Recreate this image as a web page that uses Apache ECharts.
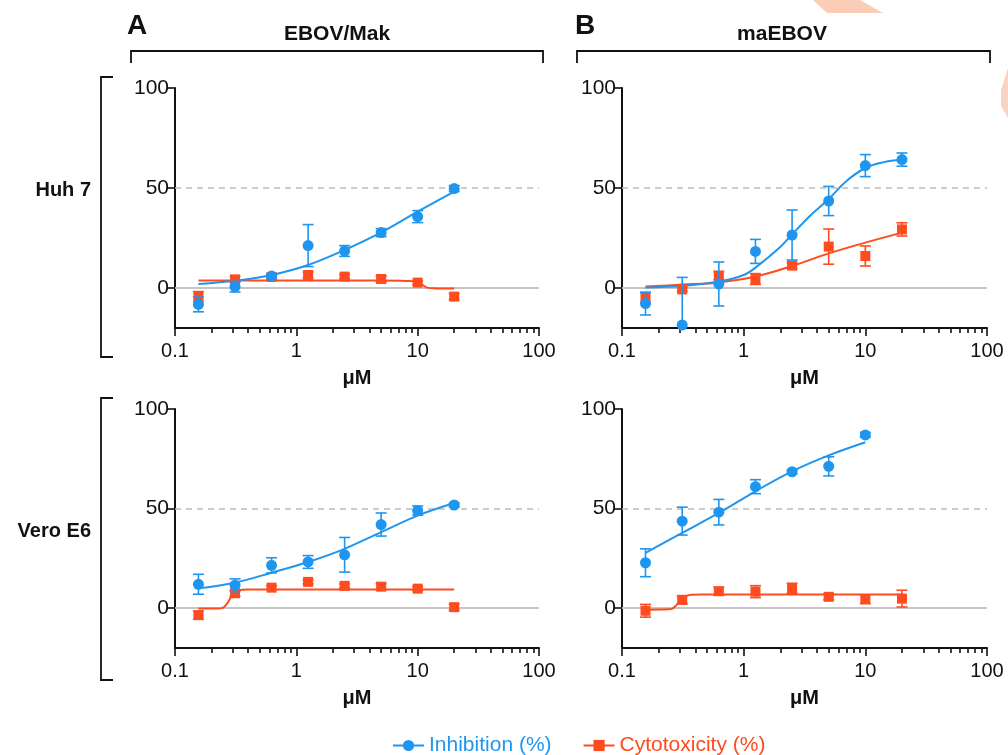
<!DOCTYPE html>
<html>
<head>
<meta charset="utf-8">
<style>html,body{margin:0;padding:0;background:#fff}#c{width:1008px;height:755px}</style>
<script src="https://cdn.jsdelivr.net/npm/echarts@6/dist/echarts.min.js"></script>
</head>
<body>
<div id="c"></div>
<script>
// ---------- data ----------
const conc = [0.156, 0.3125, 0.625, 1.25, 2.5, 5, 10, 20];
const xTickLabels = [0.1, 1, 10, 100];
const xMinorTicks = [0.2,0.3,0.4,0.5,0.6,0.7,0.8,0.9,2,3,4,5,6,7,8,9,20,30,40,50,60,70,80,90];
const yTickLabels = [0, 50, 100];
const panelTitles = ['EBOV/Mak', 'maEBOV'];
const rowTitles = ['Huh 7', 'Vero E6'];
const seriesNames = ['Inhibition (%)', 'Cytotoxicity (%)'];

// Huh 7 / EBOV-Mak
const huhMakInh = [-8.2, 0.7, 6.0, 21.2, 18.5, 27.7, 35.7, 49.7];
const huhMakInhErr = [3.7, 2.7, 1.0, 10.5, 2.7, 2.0, 3.0, 1.5];
const huhMakCyt = [-4.3, 4.3, 5.5, 6.5, 5.7, 4.5, 2.7, -4.3];
const huhMakCytErr = [2.5, 1.5, 1.0, 1.5, 1.0, 1.5, 1.0, 1.5];
const huhMakInhCurveX = [0.156, 0.3125, 0.625, 1.25, 2.5, 5, 10, 20];
const huhMakInhCurveY = [2.0, 3.6, 6.5, 11.5, 19.0, 27.8, 38.2, 48.2];
const huhMakCytCurveX = [0.156, 1, 5, 8, 10, 11, 12, 14, 20];
const huhMakCytCurveY = [3.7, 3.7, 3.7, 3.5, 3.0, 1.5, 0.2, -0.2, -0.3];

// Huh 7 / maEBOV
const huhMaInh = [-7.8, -18.5, 2.0, 18.3, 26.5, 43.5, 61.2, 64.2];
const huhMaInhErr = [5.7, 23.8, 11.0, 6.0, 12.5, 7.3, 5.5, 3.3];
const huhMaCyt = [-4.8, -0.7, 6.2, 4.5, 11.2, 20.7, 16.0, 29.3];
const huhMaCytErr = [2.5, 1.0, 2.0, 2.7, 1.5, 8.8, 5.0, 3.3];
const huhMaInhCurveX = [0.156, 0.3125, 0.625, 1, 1.25, 2, 2.5, 3.5, 5, 7, 10, 14, 20];
const huhMaInhCurveY = [0.3, 1.0, 3.2, 6.5, 10.2, 20.5, 26.8, 36.0, 44.5, 53.5, 60.0, 62.8, 64.2];
const huhMaCytCurveX = [0.156, 0.3125, 0.625, 1.25, 2.5, 5, 10, 20];
const huhMaCytCurveY = [0.7, 1.7, 2.8, 5.7, 11.0, 17.3, 22.7, 27.7];

// Vero E6 / EBOV-Mak
const veroMakInh = [12.0, 11.5, 21.5, 23.2, 26.8, 42.0, 49.0, 51.8];
const veroMakInhErr = [5.0, 3.2, 3.8, 3.2, 8.7, 5.8, 2.3, 1.0];
const veroMakCyt = [-3.5, 7.5, 10.3, 13.2, 11.2, 10.8, 9.8, 0.5];
const veroMakCytErr = [2.0, 1.5, 1.0, 1.0, 1.0, 1.5, 1.0, 1.5];
const veroMakInhCurveX = [0.156, 0.3125, 0.625, 1.25, 2.5, 5, 10, 20];
const veroMakInhCurveY = [10.0, 12.8, 17.8, 23.2, 29.8, 38.2, 46.5, 52.8];
const veroMakCytCurveX = [0.156, 0.22, 0.25, 0.27, 0.29, 0.31, 0.34, 0.4, 1, 20];
const veroMakCytCurveY = [-0.2, -0.2, 0.3, 2.5, 5.8, 8.0, 9.1, 9.4, 9.4, 9.4];

// Vero E6 / maEBOV
const veroMaInh = [22.8, 43.7, 48.2, 61.0, 68.5, 71.2, 87.0, null];
const veroMaInhErr = [7.0, 7.0, 6.4, 3.5, 1.0, 4.8, 1.2, null];
const veroMaCyt = [-1.3, 4.2, 8.5, 8.3, 10.0, 5.7, 4.5, 4.8];
const veroMaCytErr = [3.2, 2.0, 2.0, 3.0, 2.5, 1.5, 2.2, 4.2];
const veroMaInhCurveX = [0.156, 0.3125, 0.625, 1.25, 2.5, 5, 10];
const veroMaInhCurveY = [27.8, 37.8, 47.8, 58.7, 68.7, 76.7, 83.3];
const veroMaCytCurveX = [0.156, 0.24, 0.26, 0.28, 0.3, 0.33, 0.37, 0.45, 1, 20];
const veroMaCytCurveY = [-0.8, -0.6, -0.2, 1.5, 3.8, 5.8, 6.7, 6.9, 6.9, 6.9];

// ---------- build ----------
const BLUE = '#1e96f0', ORANGE = '#ff4b1e';
const FONT = "'Liberation Sans', Arial, sans-serif";

const panels = [
  {inh: huhMakInh, inhErr: huhMakInhErr, cyt: huhMakCyt, cytErr: huhMakCytErr,
   icx: huhMakInhCurveX, icy: huhMakInhCurveY, ccx: huhMakCytCurveX, ccy: huhMakCytCurveY},
  {inh: huhMaInh, inhErr: huhMaInhErr, cyt: huhMaCyt, cytErr: huhMaCytErr,
   icx: huhMaInhCurveX, icy: huhMaInhCurveY, ccx: huhMaCytCurveX, ccy: huhMaCytCurveY},
  {inh: veroMakInh, inhErr: veroMakInhErr, cyt: veroMakCyt, cytErr: veroMakCytErr,
   icx: veroMakInhCurveX, icy: veroMakInhCurveY, ccx: veroMakCytCurveX, ccy: veroMakCytCurveY},
  {inh: veroMaInh, inhErr: veroMaInhErr, cyt: veroMaCyt, cytErr: veroMaCytErr,
   icx: veroMaInhCurveX, icy: veroMaInhCurveY, ccx: veroMaCytCurveX, ccy: veroMaCytCurveY}
];

const grids = [
  {left: 175, top: 88, width: 364, height: 240},
  {left: 622, top: 88, width: 365, height: 240},
  {left: 175, top: 409, width: 364, height: 239},
  {left: 622, top: 409, width: 365, height: 239}
];

const xAxes = [], yAxes = [], series = [];
const zip = (xs, ys) => xs.map((x, i) => [x, ys[i]]);

function errRender(color) {
  return function (params, api) {
    const x = api.value(0), lo = api.value(1), hi = api.value(2);
    const cs = params.coordSys;
    const pHi = api.coord([x, hi]);
    const pLo = api.coord([x, lo]);
    const yTop = cs.y, yBot = cs.y + cs.height;
    const y1 = Math.max(pHi[1], yTop), y2 = Math.min(pLo[1], yBot);
    const cx = pHi[0], cap = 5.5;
    const st = {stroke: color, lineWidth: 1.6};
    const ch = [{type: 'line', shape: {x1: cx, y1: y1, x2: cx, y2: y2}, style: st}];
    if (pHi[1] >= yTop) ch.push({type: 'line', shape: {x1: cx - cap, y1: pHi[1], x2: cx + cap, y2: pHi[1]}, style: st});
    if (pLo[1] <= yBot) ch.push({type: 'line', shape: {x1: cx - cap, y1: pLo[1], x2: cx + cap, y2: pLo[1]}, style: st});
    return {type: 'group', children: ch};
  };
}

panels.forEach((p, g) => {
  xAxes.push({
    type: 'log', logBase: 10, gridIndex: g, min: 0.1, max: 100, position: 'bottom',
    name: 'μM', nameLocation: 'middle', nameGap: 40,
    nameTextStyle: {fontSize: 20, fontWeight: 'bold', color: '#111', fontFamily: FONT},
    axisLine: {show: true, onZero: false, lineStyle: {color: '#111', width: 2}},
    axisTick: {show: true, length: 8, lineStyle: {color: '#111', width: 1.6}},
    axisLabel: {fontSize: 20, color: '#111', margin: 13, fontFamily: FONT,
      customValues: xTickLabels, formatter: v => String(+v.toPrecision(3))},
    splitLine: {show: false}, minorTick: {show: false}
  });
  xAxes.push({
    type: 'log', logBase: 10, gridIndex: g, min: 0.1, max: 100, position: 'bottom', offset: 0,
    axisLine: {show: false, onZero: false},
    axisTick: {show: true, length: 5, customValues: xMinorTicks, lineStyle: {color: '#111', width: 1.6}},
    axisLabel: {show: false}, splitLine: {show: false}
  });
  yAxes.push({
    type: 'value', gridIndex: g, min: -20, max: 100,
    axisLine: {show: true, onZero: false, lineStyle: {color: '#111', width: 2}},
    axisTick: {show: true, length: 8, customValues: yTickLabels, lineStyle: {color: '#111', width: 1.6}},
    axisLabel: {fontSize: 21, color: '#111', margin: 6, customValues: yTickLabels, fontFamily: FONT},
    splitLine: {show: false}
  });
  const xi = g * 2, yi = g;
  series.push({
    name: seriesNames[0], type: 'line', xAxisIndex: xi, yAxisIndex: yi,
    data: zip(p.icx, p.icy), smooth: 0.35, symbol: 'circle', symbolSize: 10, showSymbol: false,
    lineStyle: {color: BLUE, width: 2}, itemStyle: {color: BLUE}, z: 4, silent: true,
    markLine: {
      silent: true, symbol: 'none', label: {show: false}, z: 1,
      data: [
        {yAxis: 0, lineStyle: {color: '#c4c4c4', width: 2, type: 'solid'}},
        {yAxis: 50, lineStyle: {color: '#bdbdbd', width: 1.5, type: [6, 5]}}
      ]
    }
  });
  series.push({
    name: seriesNames[1], type: 'line', xAxisIndex: xi, yAxisIndex: yi,
    data: zip(p.ccx, p.ccy), smooth: 0.35, symbol: 'rect', symbolSize: 10, showSymbol: false,
    lineStyle: {color: ORANGE, width: 2}, itemStyle: {color: ORANGE}, z: 3, silent: true
  });
  const cytErr = conc.map((c, i) => [c, p.cyt[i] - p.cytErr[i], p.cyt[i] + p.cytErr[i]]);
  const inhErr = conc.map((c, i) => p.inh[i] == null ? null : [c, p.inh[i] - p.inhErr[i], p.inh[i] + p.inhErr[i]]).filter(d => d);
  series.push({
    name: seriesNames[1], type: 'custom', xAxisIndex: xi, yAxisIndex: yi,
    renderItem: errRender(ORANGE), data: cytErr, z: 5, silent: true,
    encode: {x: 0, y: [1, 2]}
  });
  series.push({
    name: seriesNames[1], type: 'scatter', xAxisIndex: xi, yAxisIndex: yi,
    data: conc.map((c, i) => [c, p.cyt[i]]), symbol: 'rect', symbolSize: 10,
    itemStyle: {color: ORANGE, opacity: 1}, z: 6, silent: true
  });
  series.push({
    name: seriesNames[0], type: 'custom', xAxisIndex: xi, yAxisIndex: yi,
    renderItem: errRender(BLUE), data: inhErr, z: 7, silent: true,
    encode: {x: 0, y: [1, 2]}
  });
  series.push({
    name: seriesNames[0], type: 'scatter', xAxisIndex: xi, yAxisIndex: yi,
    data: conc.map((c, i) => p.inh[i] == null ? null : [c, p.inh[i]]).filter(d => d),
    symbol: 'circle', symbolSize: 11,
    itemStyle: {color: BLUE, opacity: 1}, z: 8, silent: true
  });
});

const txt = (x, y, s, size, align, color) => ({
  type: 'text', x: x, y: y, silent: true,
  style: {text: s, fontSize: size, fontWeight: 'bold', fill: color || '#111', fontFamily: FONT,
    align: align, verticalAlign: 'middle'}
});
const bracketStyle = {stroke: '#111', lineWidth: 1.8, fill: null};

const graphics = [
  {type: 'polygon', silent: true, shape: {points: [[813, 0], [860, 0], [883, 13], [827, 13]]}, style: {fill: '#fbcdb6'}},
  {type: 'polygon', silent: true, shape: {points: [[1008, 68], [1001, 90], [1001, 106], [1008, 118]]}, style: {fill: '#fbd3c1'}},
  txt(127, 26, 'A', 28, 'left'),
  txt(575, 26, 'B', 28, 'left'),
  txt(337, 34, panelTitles[0], 21, 'center'),
  txt(782, 34, panelTitles[1], 21, 'center'),
  {type: 'polyline', silent: true, shape: {points: [[131, 63], [131, 51], [543, 51], [543, 63]]}, style: bracketStyle},
  {type: 'polyline', silent: true, shape: {points: [[577, 63], [577, 51], [990, 51], [990, 63]]}, style: bracketStyle},
  {type: 'polyline', silent: true, shape: {points: [[113, 77], [101, 77], [101, 357], [113, 357]]}, style: bracketStyle},
  {type: 'polyline', silent: true, shape: {points: [[113, 398], [101, 398], [101, 680], [113, 680]]}, style: bracketStyle},
  txt(91, 190, rowTitles[0], 20, 'right'),
  txt(91, 531, rowTitles[1], 20, 'right')
];

const chart = echarts.init(document.getElementById('c'), null, {renderer: 'canvas'});
chart.setOption({
  animation: false,
  backgroundColor: '#fff',
  textStyle: {fontFamily: FONT},
  grid: grids,
  xAxis: xAxes,
  yAxis: yAxes,
  legend: {
    left: 392, top: 735, itemWidth: 31, itemHeight: 14, itemGap: 31, padding: 0,
    selectedMode: false,
    textStyle: {fontSize: 21, fontFamily: FONT},
    data: [
      {name: seriesNames[0], textStyle: {color: BLUE}},
      {name: seriesNames[1], textStyle: {color: ORANGE}}
    ]
  },
  series: series,
  graphic: graphics
});
</script>
</body>
</html>
